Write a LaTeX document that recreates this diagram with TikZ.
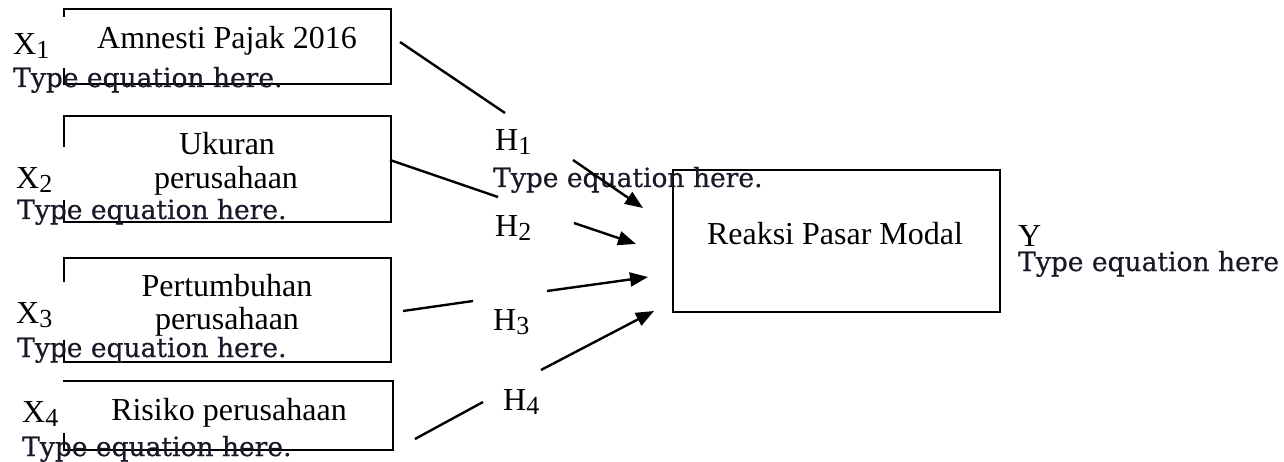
\documentclass[tikz,border=0pt]{standalone}
\usepackage{fontspec}
\setmainfont{Liberation Serif}
\newfontfamily\eqfont[FakeBold=0.6]{DejaVu Serif}
\usetikzlibrary{arrows.meta}
\definecolor{eqcol}{RGB}{28,22,38}
\newcommand{\subs}[1]{\raisebox{-4pt}{\fontsize{26}{28}\selectfont #1}}
\begin{document}
\begin{tikzpicture}[x=1pt,y=-1pt,
  box/.style={draw, line width=1.8pt, inner sep=0pt, anchor=north west},
  lbl/.style={anchor=base, inner sep=0pt, font=\fontsize{32}{36}\selectfont},
  xl/.style={anchor=base west, inner sep=0pt, font=\fontsize{32}{36}\selectfont},
  eq/.style={anchor=base west, inner sep=0pt, font=\eqfont\fontsize{26.5}{30}\selectfont, text=eqcol},
  link/.style={line width=2.4pt},
  arr/.style={line width=2.4pt, -{Triangle[length=18pt,width=14pt]}},
  mask/.style={fill=white}
]
\useasboundingbox (0,0) rectangle (1284,462);
% boxes
\node[box, minimum width=327pt, minimum height=75pt] (b1) at (63,8) {};
\node[box, minimum width=327pt, minimum height=106pt] (b2) at (63,115) {};
\node[box, minimum width=327pt, minimum height=104pt] (b3) at (63,257) {};
\node[box, minimum width=329pt, minimum height=69pt] (b4) at (63,380) {};
\node[box, minimum width=327pt, minimum height=142pt] (by) at (672,169) {};
% masks hiding parts of the left edges
\fill[mask] (58,17) rectangle (68,68);
\fill[mask] (58,147) rectangle (68,200);
\fill[mask] (58,282) rectangle (68,340);
\fill[mask] (58,381.5) rectangle (68,433);
% box texts
\node[lbl] (t1) at (227,49) {Amnesti Pajak 2016};
\node[lbl] (t2a) at (227,155) {Ukuran};
\node[lbl] (t2b) at (226,189) {perusahaan};
\node[lbl] (t3a) at (227,296) {Pertumbuhan};
\node[lbl] (t3b) at (227,329) {perusahaan};
\node[lbl] (t4) at (229,420) {Risiko perusahaan};
\node[lbl] (ty) at (835,245) {Reaksi Pasar Modal};
% variable labels
\node[xl] (x1) at (13,55) {X\subs{1}};
\node[xl] (x2) at (16,189) {X\subs{2}};
\node[xl] (x3) at (16,323) {X\subs{3}};
\node[xl] (x4) at (22,422) {X\subs{4}};
\node[xl] (yl) at (1018,247) {Y};
\node[xl] (h1) at (495,151) {H\subs{1}};
\node[xl] (h2) at (495,237) {H\subs{2}};
\node[xl] (h3) at (493,330) {H\subs{3}};
\node[xl] (h4) at (503,410) {H\subs{4}};
% placeholder texts
\node[eq] (e1) at (13,87) {Type equation here.};
\node[eq] (e2) at (17,219) {Type equation here.};
\node[eq] (e3) at (17,357) {Type equation here.};
\node[eq] (e4) at (22,456) {Type equation here.};
\node[eq] (eh) at (493,187) {Type equation here.};
\node[eq] (ey) at (1018,271) {Type equation here};
% connector end points
\coordinate (c1a) at (400,42);  \coordinate (c1b) at (505,113);
\coordinate (c1c) at (573,160); \coordinate (c1d) at (643,208);
\coordinate (c2a) at (390,160); \coordinate (c2b) at (498,197);
\coordinate (c2c) at (574,223); \coordinate (c2d) at (636,244);
\coordinate (c3a) at (403,311); \coordinate (c3b) at (473,301);
\coordinate (c3c) at (547,291); \coordinate (c3d) at (648,277);
\coordinate (c4a) at (415,439); \coordinate (c4b) at (483,402);
\coordinate (c4c) at (541,370); \coordinate (c4d) at (654,311);
\draw[link] (c1a) -- (c1b);
\draw[arr] (c1c) -- (c1d);
\draw[link] (c2a) -- (c2b);
\draw[arr] (c2c) -- (c2d);
\draw[link] (c3a) -- (c3b);
\draw[arr] (c3c) -- (c3d);
\draw[link] (c4a) -- (c4b);
\draw[arr] (c4c) -- (c4d);
\end{tikzpicture}
\end{document}
